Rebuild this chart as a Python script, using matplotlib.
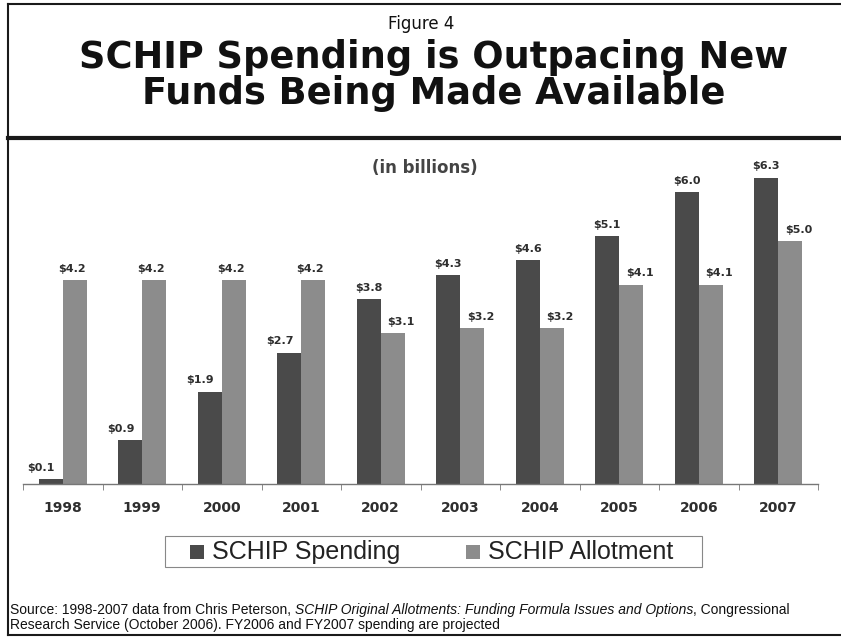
import numpy as np
import matplotlib.pyplot as plt
from matplotlib.lines import Line2D
from matplotlib.patches import Rectangle

# SCHIP spending vs. allotments, in billions of dollars
years = ['1998', '1999', '2000', '2001', '2002', '2003', '2004', '2005', '2006', '2007']
spending = [0.1, 0.9, 1.9, 2.7, 3.8, 4.3, 4.6, 5.1, 6.0, 6.3]
allotment = [4.2, 4.2, 4.2, 4.2, 3.1, 3.2, 3.2, 4.1, 4.1, 5.0]
series_names = ['SCHIP Spending', 'SCHIP Allotment']

W, H = 841, 639
dark = '#4a4a4a'
light = '#8c8c8c'
text_col = '#2e2e2e'
wide = ['DejaVu Sans']

plt.rcParams['font.family'] = ['Liberation Sans', 'DejaVu Sans']

fig = plt.figure(figsize=(W / 100, H / 100), dpi=100)
fig.patch.set_facecolor('white')

def fx(px):
    return px / W

def fy(py):
    return 1 - py / H

# frame lines round the page
def hline(y, x0, x1, lw):
    fig.add_artist(Line2D([fx(x0), fx(x1)], [fy(y), fy(y)], color='#1a1a1a', lw=lw,
                          transform=fig.transFigure))

def vline(x, y0, y1, lw):
    fig.add_artist(Line2D([fx(x), fx(x)], [fy(y0), fy(y1)], color='#1a1a1a', lw=lw,
                          transform=fig.transFigure))

hline(4, 8, W, 1.5)
hline(138, 8, W, 3)
hline(635, 8, W, 1.5)
vline(8, 4, 635, 1.5)

# headings
fig.text(fx(421), fy(24), 'Figure 4', ha='center', va='center', fontsize=12,
         family=wide, color='#111')
fig.text(fx(434), fy(57), 'SCHIP Spending is Outpacing New', ha='center', va='center',
         fontsize=26.5, fontweight='bold', family=wide, color='#111')
fig.text(fx(434), fy(93), 'Funds Being Made Available', ha='center', va='center',
         fontsize=26.5, fontweight='bold', family=wide, color='#111')
fig.text(fx(425), fy(168), '(in billions)', ha='center', va='center',
         fontsize=12, fontweight='bold', family=wide, color='#444')

# bar chart
ax = fig.add_axes([fx(23), fy(484), fx(818) - fx(23), 7 * 48.6 / H])
x = np.arange(len(years))
w = 0.3
ax.bar(x - w / 2, spending, w, color=dark, zorder=2)
ax.bar(x + w / 2, allotment, w, color=light, zorder=2)

# value labels; the label on the shorter bar of a pair is nudged outward
for xi, s, a in zip(x, spending, allotment):
    ds = -7 if s < a else 0
    da = 6 if a < s else -2
    ax.annotate('$%.1f' % s, (xi - w / 2, s), xytext=(ds, 6), textcoords='offset points',
                ha='center', va='baseline', fontsize=8, fontweight='bold',
                family=wide, color=text_col)
    ax.annotate('$%.1f' % a, (xi + w / 2, a), xytext=(da, 6), textcoords='offset points',
                ha='center', va='baseline', fontsize=8, fontweight='bold',
                family=wide, color=text_col)

ax.set_xlim(-0.5, len(years) - 0.5)
ax.set_ylim(0, 7)
for side in ['left', 'top', 'right']:
    ax.spines[side].set_visible(False)
ax.spines['bottom'].set_color('#777')
ax.spines['bottom'].set_linewidth(1)
ax.set_yticks([])
ax.set_xticks(x)
ax.set_xticklabels(years, fontsize=10, fontweight='bold', family=wide, color=text_col)
ax.tick_params(axis='x', which='major', length=0, pad=12)
ax.set_xticks(np.arange(-0.5, len(years)), minor=True)
ax.tick_params(axis='x', which='minor', length=4, color='#777', direction='out')
ax.set_facecolor('none')

# legend box below the axis
def fig_rect(x0, y0, x1, y1, **kw):
    fig.add_artist(Rectangle((fx(x0), fy(y1)), fx(x1) - fx(x0), fy(y0) - fy(y1),
                             transform=fig.transFigure, **kw))

fig_rect(165, 536, 702, 567, facecolor='white', edgecolor='#888', lw=0.8)
for (x0, name, col) in [(190, series_names[0], dark), (466, series_names[1], light)]:
    fig_rect(x0, 545, x0 + 14, 559, facecolor=col, edgecolor='none')
    fig.text(fx(x0 + 22), fy(552), name, ha='left', va='center', fontsize=18, color='#222')

# source note, with the report title in italics
fig.canvas.draw()
renderer = fig.canvas.get_renderer()

def run_text(pieces, x0, y0):
    xpos = fx(x0)
    for s, style in pieces:
        t = fig.text(xpos, fy(y0), s, ha='left', va='center', fontsize=10,
                     style=style, color='#111')
        bb = t.get_window_extent(renderer=renderer)
        xpos += bb.width / W

run_text([('Source: 1998-2007 data from Chris Peterson, ', 'normal'),
          ('SCHIP Original Allotments: Funding Formula Issues and Options', 'italic'),
          (', Congressional', 'normal')], 10, 610)
run_text([('Research Service (October 2006). FY2006 and FY2007 spending are projected', 'normal')],
         10, 625)

fig.savefig('out.png', dpi=100)
